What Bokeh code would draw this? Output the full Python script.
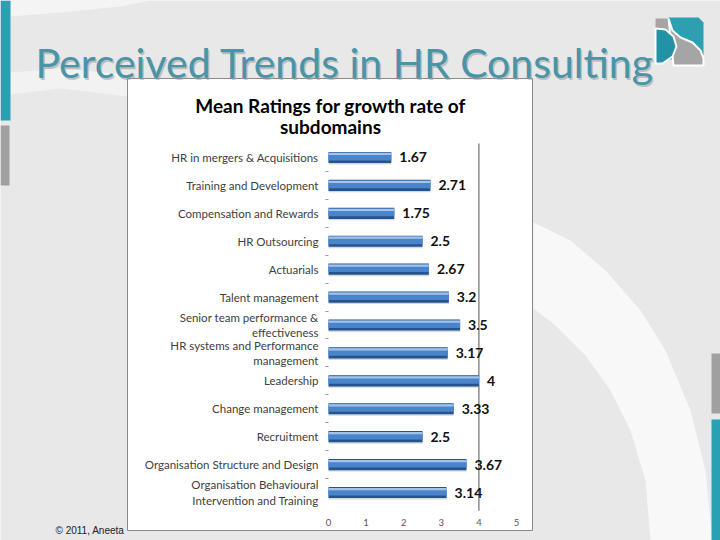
from bokeh.plotting import figure
from bokeh.models import (ColumnDataSource, FixedTicker, Range1d, LinearAxis)
from bokeh.transform import dodge
from bokeh.core.properties import value
from bokeh.embed import file_html
from bokeh.resources import INLINE

# ---------------- data ----------------
categories = [
    "HR in mergers & Acquisitions",
    "Training and Development",
    "Compensation and Rewards",
    "HR Outsourcing",
    "Actuarials",
    "Talent management",
    "Senior team performance &\neffectiveness",
    "HR systems and Performance\nmanagement",
    "Leadership",
    "Change management",
    "Recruitment",
    "Organisation Structure and Design",
    "Organisation Behavioural\nIntervention and Training",
]
ratings = [1.67, 2.71, 1.75, 2.5, 2.67, 3.2, 3.5, 3.17, 4, 3.33, 2.5, 3.67, 3.14]
rating_labels = ["1.67", "2.71", "1.75", "2.5", "2.67", "3.2", "3.5",
                 "3.17", "4", "3.33", "2.5", "3.67", "3.14"]
x_ticks = [0, 1, 2, 3, 4, 5]
slide_title = "Perceived Trends in HR  Consulting"
chart_title_1 = "Mean Ratings for growth rate of"
chart_title_2 = "subdomains"
footer = "\u00a9 2011, Aneeta"

n = len(categories)
ypos = [n - 1 - i for i in range(n)]
src = ColumnDataSource(dict(y=ypos, rating=ratings, label=rating_labels))

# ---------------- layout (canvas pixels) ----------------
W, H = 720, 540
PX0, PX5 = 328, 516          # canvas x of value 0 and 5
PTOP, PBOT = 143, 506        # canvas y of top / bottom of the bar area
kx = (PX5 - PX0) / 5.0
ky = (PBOT - PTOP) / float(n)

p = figure(width=W, height=H, output_backend="svg", toolbar_location=None,
           x_range=Range1d(0, W), y_range=Range1d(H, 0),
           x_axis_type=None, y_axis_type=None,
           min_border=0, min_border_left=0, min_border_right=0,
           min_border_top=0, min_border_bottom=0)
p.border_fill_color = "#e8e8e8"
p.background_fill_color = "#e8e8e8"
p.outline_line_color = None
p.grid.visible = False

p.extra_x_ranges = {"val": Range1d(-PX0 / kx, (W - PX0) / kx)}
p.extra_y_ranges = {"cat": Range1d(-0.5 - (H - PBOT) / ky, n - 0.5 + PTOP / ky)}

# ---------------- slide decorations ----------------
p.patch([533, 570, 605, 640, 665, 690, 705, 712, 650, 645, 630, 610, 585, 555, 533],
        [222, 240, 270, 310, 350, 410, 470, 540, 540, 480, 430, 390, 355, 325, 308],
        fill_color="white", fill_alpha=0.7, line_color=None)
p.patch([10, 150, 120, 60, 10], [0, 0, 6, 12, 16],
        fill_color="white", fill_alpha=0.5, line_color=None)
p.patch([10, 60, 127, 127, 60, 10], [72, 68, 74, 96, 88, 94],
        fill_color="white", fill_alpha=0.45, line_color=None)

# edge strips
p.quad(left=[0, 0, 711, 711], right=[10, 9, 720, 720],
       top=[0, 125, 353, 419], bottom=[120, 185, 413, 540],
       fill_color=["#2aa1b3", "#a0a0a0", "#a0a0a0", "#2aa1b3"], line_color=None)

# logo
p.quad(left=655, right=668, top=18, bottom=32, fill_color="#a5a5a5", line_color=None)
p.patch([668, 698, 703, 703, 698, 668], [17, 17, 22, 54, 59, 59],
        fill_color="#2c9fb0", line_color=None)
p.patch([668, 672, 680, 692, 700, 703, 703, 673],
        [18, 30, 37, 42, 50, 58, 65, 65],
        fill_color="#a5a5a5", line_color="white", line_width=2)
p.patch([655, 665, 673, 676, 672, 662, 655], [28, 29, 36, 46, 56, 63, 63],
        fill_color="#2391a6", line_color="white", line_width=2)

# footer
p.text(x=[55], y=[530], text=[footer], text_font=value("Liberation Sans"),
       text_font_size="10px", text_color="#222222", text_baseline="alphabetic")

# white chart box
p.quad(left=127, right=532, top=78, bottom=530, fill_color="white",
       line_color="#8a8a8a", line_width=1)

# slide title with shadow
p.text(x=[36.5], y=[63.5], text=[slide_title], text_font=value("Lato"),
       text_font_size="41px", text_color="#9a9a9a", text_alpha=0.55,
       text_baseline="alphabetic")
p.text(x=[35], y=[62], text=[slide_title], text_font=value("Lato"),
       text_font_size="41px", text_color="#4a94a8", text_baseline="alphabetic")

# chart title
p.text(x=[330, 330], y=[105, 126], text=[chart_title_1, chart_title_2],
       text_font=value("Lato"), text_font_style="bold", text_font_size="19px",
       text_color="#000000", text_align="center", text_baseline="alphabetic")

# ---------------- chart ----------------
# single vertical reference line at value 4
p.segment(x0=[4], x1=[4], y0=[-0.65], y1=[n - 0.5], x_range_name="val",
          y_range_name="cat", line_color="#7a7a7a", line_width=1.3)

bar_kw = dict(source=src, x_range_name="val", y_range_name="cat", left=0,
              right="rating", line_color=None)
cat_rng = p.extra_y_ranges["cat"]
p.hbar(y=dodge("y", -0.05, range=cat_rng), height=0.40,
       fill_color="#bdbdbd", fill_alpha=0.6, **bar_kw)
p.hbar(y="y", height=0.40, fill_color="#24548f", **bar_kw)
p.hbar(y=dodge("y", 0.03, range=cat_rng), height=0.27,
       fill_color="#4a85cc", **bar_kw)
p.hbar(y=dodge("y", 0.125, range=cat_rng), height=0.08,
       fill_color="#a3c3ec", **bar_kw)

p.text(x="rating", y="y", text="label", source=src, x_range_name="val",
       y_range_name="cat", x_offset=8, text_baseline="middle", text_align="left",
       text_font=value("Lato"), text_font_style="bold", text_font_size="14px",
       text_color="#111111")

# axes drawn inside the canvas at fixed locations
xa = LinearAxis(x_range_name="val", fixed_location=PBOT,
                ticker=FixedTicker(ticks=x_ticks))
xa.axis_line_color = None
xa.major_tick_line_color = None
xa.minor_tick_line_color = None
xa.major_label_text_font = "Lato"
xa.major_label_text_font_size = "9.5px"
xa.major_label_text_color = "#595959"
xa.major_label_standoff = 6
p.add_layout(xa, "below")

ya = LinearAxis(y_range_name="cat", fixed_location=PX0,
                ticker=FixedTicker(ticks=ypos, minor_ticks=[v + 0.5 for v in range(n - 1)]))
ya.major_label_overrides = {float(ypos[i]): categories[i] for i in range(n)}
ya.axis_line_color = None
ya.major_tick_line_color = None
ya.minor_tick_line_color = "#9a9a9a"
ya.minor_tick_out = 3
ya.minor_tick_in = 0
ya.major_label_text_font = "Lato"
ya.major_label_text_font_size = "11.5px"
ya.major_label_text_color = "#404040"
ya.major_label_standoff = 4
p.add_layout(ya, "left")

open("out.html", "w").write(file_html(p, INLINE))
